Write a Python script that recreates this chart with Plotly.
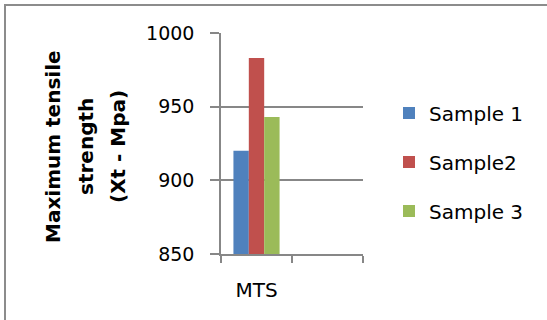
import plotly.graph_objects as go

# Data
categories = ["MTS", " "]
series_names = ["Sample 1", "Sample2", "Sample 3"]
series_values = [
    [920, None],
    [983, None],
    [943, None],
]
colors = ["#4F81BD", "#C0504D", "#9BBB59"]
y_ticks = [850, 900, 950, 1000]
y_title_lines = ["Maximum tensile", "strength", "(Xt - Mpa)"]

W, H = 547, 320
ML, MR, MT, MB = 221, W - 363, 33, H - 254
PW, PH = W - ML - MR, H - MT - MB

FONT = "DejaVu Sans"
GRID = "#878787"


def px_to_paper_x(px):
    return (px - ML) / PW


def px_to_paper_y(py):
    return (H - MB - py) / PH


fig = go.Figure()
for i, (name, vals) in enumerate(zip(series_names, series_values)):
    fig.add_trace(go.Bar(
        x=categories, y=vals, name=name,
        marker=dict(color=colors[i], line=dict(width=0)),
        legendgroup=name,
    ))

# outer chart frame (only the top and left edges fall inside the view)
fig.add_shape(
    type="rect", xref="paper", yref="paper",
    x0=px_to_paper_x(5), x1=px_to_paper_x(W + 20),
    y0=px_to_paper_y(H + 20), y1=px_to_paper_y(5),
    line=dict(color="#8c8c8c", width=2), fillcolor="rgba(0,0,0,0)",
    layer="below",
)

# rotated, three-line value-axis title
for line, cx in zip(y_title_lines, [53, 86, 118]):
    fig.add_annotation(
        text=f"<b>{line}</b>", textangle=-90,
        xref="paper", yref="paper",
        x=px_to_paper_x(cx), y=px_to_paper_y(147),
        xanchor="center", yanchor="middle", showarrow=False,
        font=dict(family=FONT, size=20, color="black"),
    )

fig.update_layout(
    width=W, height=H,
    margin=dict(l=ML, r=MR, t=MT, b=MB, pad=0),
    paper_bgcolor="white", plot_bgcolor="white",
    barmode="group", bargap=0.35, bargroupgap=0,
    font=dict(family=FONT, size=19, color="black"),
    showlegend=True,
    legend=dict(
        x=px_to_paper_x(389), xanchor="left",
        y=px_to_paper_y(162), yanchor="middle",
        font=dict(family=FONT, size=20, color="black"),
        tracegroupgap=20, traceorder="grouped",
        bgcolor="rgba(0,0,0,0)",
    ),
    xaxis=dict(
        type="category", categoryorder="array", categoryarray=categories,
        range=[-0.5, 1.5], tickson="boundaries",
        showgrid=False, showline=True, linecolor=GRID, linewidth=1.5,
        ticks="outside", ticklen=7, tickcolor=GRID, tickwidth=1.5,
        tickfont=dict(family=FONT, size=20, color="black"),
        ticklabelstandoff=17,
    ),
    yaxis=dict(
        range=[850, 1000], tickvals=y_ticks,
        showgrid=True, gridcolor=GRID, gridwidth=1.5,
        showline=True, linecolor=GRID, linewidth=1.5,
        ticks="outside", ticklen=9, tickcolor=GRID, tickwidth=1.5,
        tickfont=dict(family=FONT, size=19, color="black"),
        ticklabelstandoff=12, zeroline=False,
    ),
)

fig.write_html("out.html")
